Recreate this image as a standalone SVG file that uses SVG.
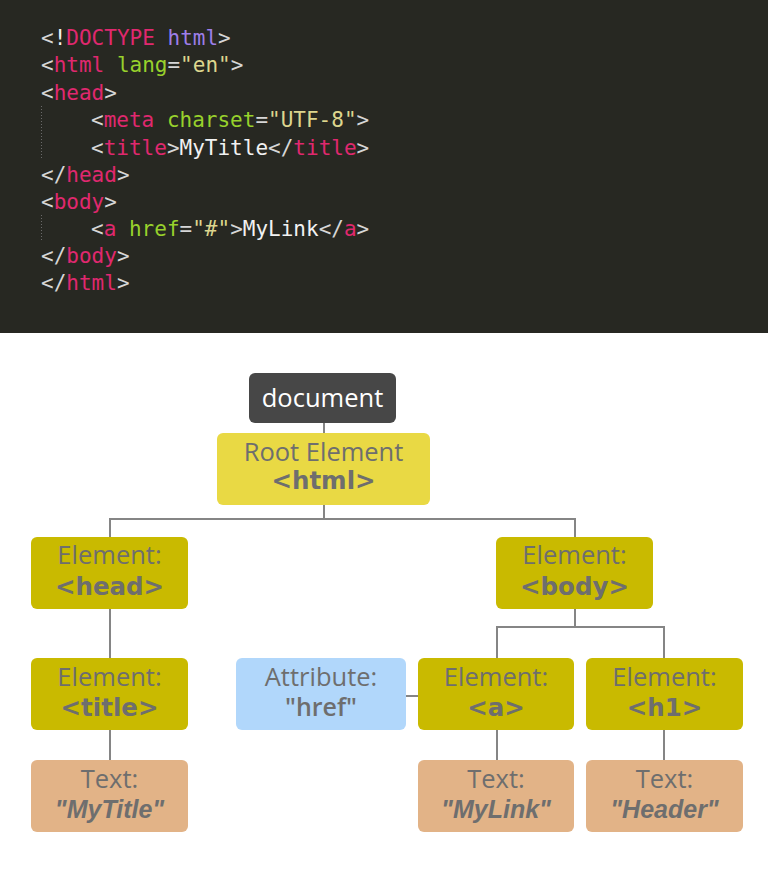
<svg xmlns="http://www.w3.org/2000/svg" width="768" height="892" viewBox="0 0 768 892">
<style>
.code{font-family:"DejaVu Sans Mono","Liberation Mono",monospace;font-size:21px;white-space:pre;fill:#d6d6d6}
.p{fill:#e0286f}.g{fill:#98d12c}.y{fill:#ddd68e}.v{fill:#9d7ee8}.w{fill:#f2f2f2}
.lbl{font-family:"Open Sans","Noto Sans",sans-serif;font-size:25.5px;fill:#6e6e6e;text-anchor:middle}
.tag{font-family:"DejaVu Sans",Verdana,sans-serif;font-weight:bold;font-size:24.5px;fill:#6e6e6e;text-anchor:middle}
.txt{font-family:"Liberation Sans",Arial,sans-serif;font-weight:bold;font-style:italic;font-size:25px;fill:#6e6e6e;text-anchor:middle}
.attr{font-family:"Open Sans","Noto Sans",sans-serif;font-weight:600;font-size:25px;fill:#6e6e6e;text-anchor:middle}
.el{fill:#c9ba00}.tx{fill:#e2b387}
.conn line{stroke:#858585;stroke-width:2}
</style>
<rect x="0" y="0" width="768" height="333" fill="#272822"/>
<g id="code">
<line x1="41.5" y1="106" x2="41.5" y2="160" stroke="#6a6a6a" stroke-width="1" stroke-dasharray="1,2"/>
<line x1="41.5" y1="215" x2="41.5" y2="242" stroke="#6a6a6a" stroke-width="1" stroke-dasharray="1,2"/>
<text class="code" x="41" y="45">&lt;<tspan class="w">!</tspan><tspan class="p">DOCTYPE</tspan> <tspan class="v">html</tspan>&gt;</text>
<text class="code" x="41" y="72">&lt;<tspan class="p">html</tspan><tspan class="g"> lang</tspan>=<tspan class="y">"en"</tspan>&gt;</text>
<text class="code" x="41" y="100">&lt;<tspan class="p">head</tspan>&gt;</text>
<text class="code" x="91" y="127">&lt;<tspan class="p">meta</tspan><tspan class="g"> charset</tspan>=<tspan class="y">"UTF-8"</tspan>&gt;</text>
<text class="code" x="91" y="155">&lt;<tspan class="p">title</tspan>&gt;<tspan class="w">MyTitle</tspan>&lt;/<tspan class="p">title</tspan>&gt;</text>
<text class="code" x="41" y="182">&lt;/<tspan class="p">head</tspan>&gt;</text>
<text class="code" x="41" y="209">&lt;<tspan class="p">body</tspan>&gt;</text>
<text class="code" x="91" y="236">&lt;<tspan class="p">a</tspan><tspan class="g"> href</tspan>=<tspan class="y">"#"</tspan>&gt;<tspan class="w">MyLink</tspan>&lt;/<tspan class="p">a</tspan>&gt;</text>
<text class="code" x="41" y="263">&lt;/<tspan class="p">body</tspan>&gt;</text>
<text class="code" x="41" y="290">&lt;/<tspan class="p">html</tspan>&gt;</text>
</g>
<g id="connectors" class="conn">
<line x1="324" y1="423" x2="324" y2="433"/>
<line x1="324" y1="505" x2="324" y2="519"/>
<line x1="109" y1="519" x2="576" y2="519"/>
<line x1="110" y1="519" x2="110" y2="537"/>
<line x1="575" y1="519" x2="575" y2="537"/>
<line x1="110" y1="609" x2="110" y2="658"/>
<line x1="110" y1="730" x2="110" y2="760"/>
<line x1="575" y1="609" x2="575" y2="627"/>
<line x1="496" y1="627" x2="665" y2="627"/>
<line x1="497" y1="627" x2="497" y2="658"/>
<line x1="664" y1="627" x2="664" y2="658"/>
<line x1="406" y1="696" x2="418" y2="696"/>
<line x1="497" y1="730" x2="497" y2="760"/>
<line x1="664" y1="730" x2="664" y2="760"/>
</g>
<g id="document">
<rect x="249" y="373" width="147" height="50" rx="6" fill="#474747"/>
<text class="lbl" x="322.5" y="407" style="fill:#ffffff">document</text>
</g>
<g id="root">
<rect x="217" y="433" width="213" height="72" rx="6" fill="#e9d944"/>
<text class="lbl" x="323.5" y="461">Root Element</text>
<text class="tag" x="323.5" y="489">&lt;html&gt;</text>
</g>
<g id="head">
<rect class="el" x="31" y="537" width="157" height="72" rx="6"/>
<text class="lbl" x="109.5" y="564">Element:</text>
<text class="tag" x="109.5" y="595">&lt;head&gt;</text>
</g>
<g id="body">
<rect class="el" x="496" y="537" width="157" height="72" rx="6"/>
<text class="lbl" x="574.5" y="564">Element:</text>
<text class="tag" x="574.5" y="595">&lt;body&gt;</text>
</g>
<g id="title">
<rect class="el" x="31" y="658" width="157" height="72" rx="6"/>
<text class="lbl" x="109.5" y="686">Element:</text>
<text class="tag" x="109.5" y="716">&lt;title&gt;</text>
</g>
<g id="attribute">
<rect x="236" y="658" width="170" height="72" rx="6" fill="#b1d7fb"/>
<text class="lbl" x="321" y="686">Attribute:</text>
<text class="attr" x="321" y="716">"href"</text>
</g>
<g id="a">
<rect class="el" x="418" y="658" width="156" height="72" rx="6"/>
<text class="lbl" x="496" y="686">Element:</text>
<text class="tag" x="496" y="716">&lt;a&gt;</text>
</g>
<g id="h1">
<rect class="el" x="586" y="658" width="157" height="72" rx="6"/>
<text class="lbl" x="664.5" y="686">Element:</text>
<text class="tag" x="664.5" y="716">&lt;h1&gt;</text>
</g>
<g id="text-mytitle">
<rect class="tx" x="31" y="760" width="157" height="72" rx="6"/>
<text class="lbl" x="109.5" y="788">Text:</text>
<text class="txt" x="109.5" y="818">"MyTitle"</text>
</g>
<g id="text-mylink">
<rect class="tx" x="418" y="760" width="156" height="72" rx="6"/>
<text class="lbl" x="496" y="788">Text:</text>
<text class="txt" x="496" y="818">"MyLink"</text>
</g>
<g id="text-header">
<rect class="tx" x="586" y="760" width="157" height="72" rx="6"/>
<text class="lbl" x="664.5" y="788">Text:</text>
<text class="txt" x="664.5" y="818">"Header"</text>
</g>
</svg>
